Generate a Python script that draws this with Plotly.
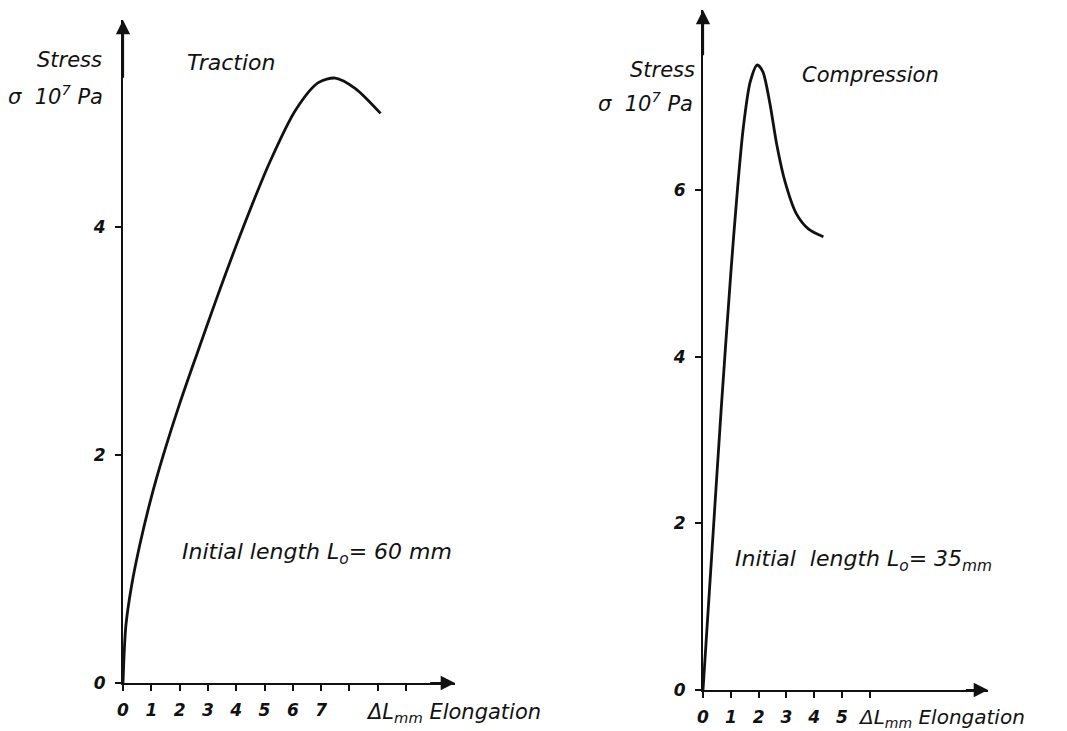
import plotly.graph_objects as go

# Traction curve (elongation mm, stress 1e7 Pa)
trac_x = [0.0, 0.1, 0.3, 0.6, 1.0, 1.4, 2.0, 2.6, 3.3, 4.2, 5.2, 6.1, 6.9, 7.5, 8.2, 9.1]
trac_y = [0.0, 0.5, 0.85, 1.22, 1.63, 1.98, 2.45, 2.88, 3.37, 3.97, 4.58, 5.03, 5.27, 5.31, 5.22, 5.0]

# Compression curve
comp_x = [0.0, 0.3, 0.65, 1.0, 1.25, 1.45, 1.7, 1.95, 2.15, 2.4, 2.65, 2.95, 3.35, 3.8, 4.33]
comp_y = [0.0, 1.55, 3.35, 5.0, 6.05, 6.75, 7.3, 7.5, 7.42, 7.05, 6.55, 6.1, 5.72, 5.53, 5.44]

trac_xticks = list(range(0, 11))
trac_xlabels = ["0", "1", "2", "3", "4", "5", "6", "7", "", "", ""]
trac_yticks = [0, 2, 4]
comp_xticks = list(range(0, 7))
comp_xlabels = ["0", "1", "2", "3", "4", "5", ""]
comp_yticks = [0, 2, 4, 6]

W, H = 1067, 731
FONT = "DejaVu Sans"
ink = "#111111"

fig = go.Figure()
fig.add_trace(go.Scatter(x=trac_x, y=trac_y, mode="lines",
                         line=dict(color=ink, width=2.8, shape="spline", smoothing=0.8),
                         xaxis="x", yaxis="y", cliponaxis=False, showlegend=False, hoverinfo="skip"))
fig.add_trace(go.Scatter(x=comp_x, y=comp_y, mode="lines",
                         line=dict(color=ink, width=2.8, shape="spline", smoothing=0.8),
                         xaxis="x2", yaxis="y2", cliponaxis=False, showlegend=False, hoverinfo="skip"))

def px_x(p):
    return p / W

def px_y(p):
    return (H - p) / H

tickfont = dict(family=FONT, size=17, color=ink, style="italic", weight="bold")
common = dict(showgrid=False, zeroline=False, showline=True, linecolor=ink, linewidth=2.2,
              ticks="outside", ticklen=6, tickwidth=2, tickcolor=ink, tickfont=tickfont,
              fixedrange=True, automargin=False)

fig.update_layout(
    width=W, height=H, margin=dict(l=0, r=0, t=0, b=0, pad=0),
    paper_bgcolor="white", plot_bgcolor="white",
    xaxis=dict(domain=[px_x(123), px_x(455)], range=[0, 11.73], tickvals=trac_xticks, ticktext=trac_xlabels,
               anchor="y", ticklabelstandoff=4, **common),
    yaxis=dict(domain=[px_y(683), px_y(20)], range=[0, 5.82], tickvals=trac_yticks, anchor="x",
               ticklabelstandoff=6, **common),
    xaxis2=dict(domain=[px_x(703), px_x(988)], range=[0, 10.25], tickvals=comp_xticks, ticktext=comp_xlabels,
                anchor="y2", ticklabelstandoff=4, **common),
    yaxis2=dict(domain=[px_y(690), px_y(10)], range=[0, 8.16], tickvals=comp_yticks, anchor="x2",
                ticklabelstandoff=6, **common),
)

def arrow(x, y, ax, ay, xr, yr):
    fig.add_annotation(x=x, y=y, ax=ax, ay=ay, xref=xr, yref=yr, axref=xr, ayref=yr,
                       showarrow=True, arrowhead=2, arrowsize=1.3, arrowwidth=2.2, arrowcolor=ink, text="")

arrow(11.73, 0, 10.8, 0, "x", "y")
arrow(0, 5.82, 0, 5.3, "x", "y")
arrow(10.25, 0, 9.4, 0, "x2", "y2")
arrow(0, 8.16, 0, 7.6, "x2", "y2")

def txt(s, xp, yp, size=20, anchor="left"):
    fig.add_annotation(x=px_x(xp), y=px_y(yp), xref="paper", yref="paper", text=s, showarrow=False,
                       xanchor=anchor, yanchor="middle",
                       font=dict(family=FONT, size=size, color=ink, style="italic"))

txt("Stress", 35, 60, size=21)
txt("σ  10<sup>7</sup> Pa", 6, 95, size=21)
txt("Traction", 185, 63, size=22)
txt("Initial length L<sub>o</sub>= 60 mm", 180, 553, size=22)
txt("ΔL<sub>mm</sub> Elongation", 364, 713, size=21)

txt("Stress", 628, 70, size=21)
txt("σ  10<sup>7</sup> Pa", 596, 102, size=21)
txt("Compression", 800, 75, size=21)
txt("Initial  length L<sub>o</sub>= 35<sub>mm</sub>", 733, 560, size=22)
txt("ΔL<sub>mm</sub> Elongation", 856, 718, size=20)

fig.write_html("out.html", config={"displayModeBar": False},
               post_script="document.body.style.margin='0';document.body.style.overflow='hidden';")
